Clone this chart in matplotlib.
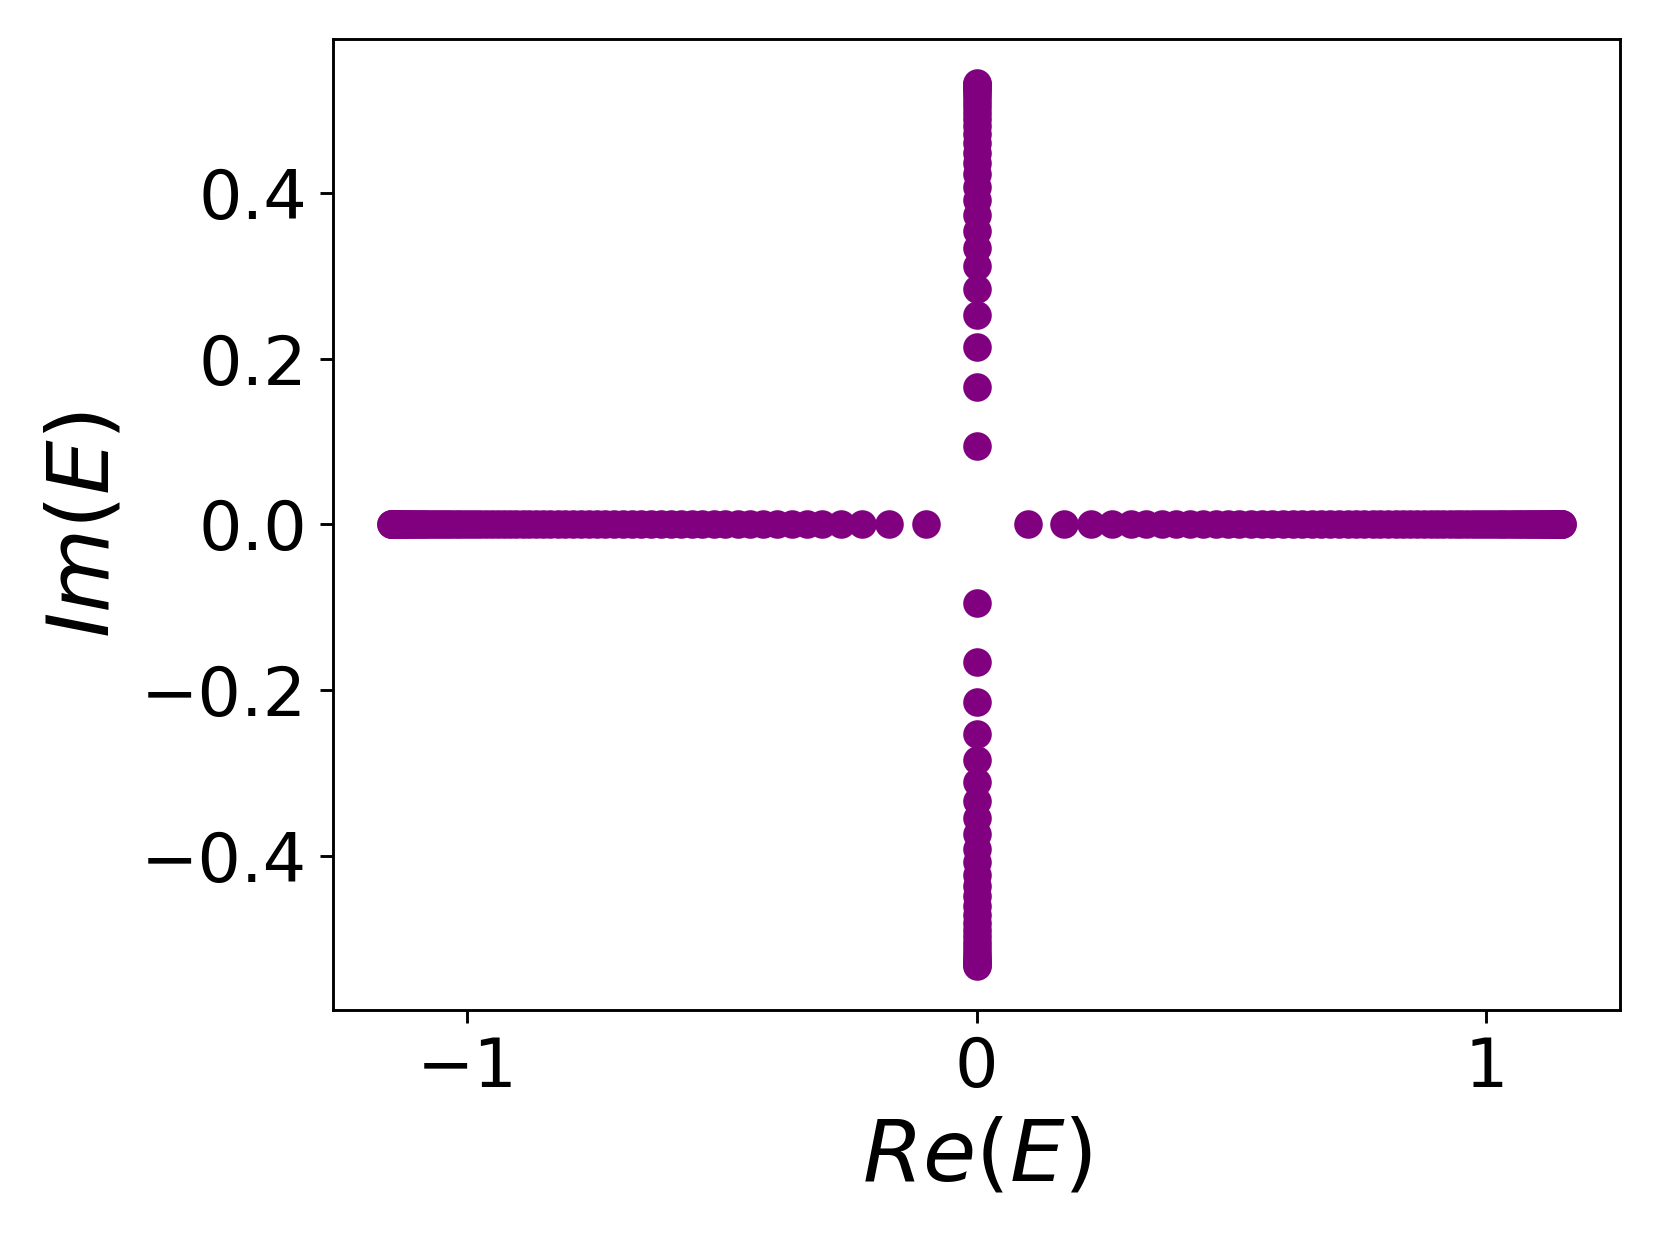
import numpy as np
import matplotlib
matplotlib.use("Agg")
import matplotlib.pyplot as plt

# Eigenvalues on the real axis (Re(E), Im(E)=0)
real_branch_re = [
    -1.1490, -1.1488, -1.1477, -1.1466, -1.1451, -1.1433, -1.1412, -1.1388, -1.1360, -1.1329,
    -1.1295, -1.1258, -1.1218, -1.1174, -1.1127, -1.1077, -1.1024, -1.0967, -1.0908, -1.0845,
    -1.0778, -1.0710, -1.0638, -1.0560, -1.0481, -1.0399, -1.0313, -1.0225, -1.0133, -1.0038,
    -0.9941, -0.9842, -0.9740, -0.9626, -0.9515, -0.9401, -0.9284, -0.9163, -0.9039, -0.8912,
    -0.8781, -0.8647, -0.8510, -0.8369, -0.8225, -0.8078, -0.7927, -0.7772, -0.7614, -0.7452,
    -0.7286, -0.7116, -0.6942, -0.6764, -0.6581, -0.6394, -0.6202, -0.6005, -0.5803, -0.5595,
    -0.5380, -0.5159, -0.4930, -0.4692, -0.4446, -0.4188, -0.3917, -0.3631, -0.3325, -0.303,
    -0.266, -0.224, -0.1725, -0.100,
    0.100, 0.1725, 0.224, 0.266, 0.303, 0.3325, 0.3631, 0.3917, 0.4188, 0.4446,
    0.4692, 0.4930, 0.5159, 0.5380, 0.5595, 0.5803, 0.6005, 0.6202, 0.6394, 0.6581,
    0.6764, 0.6942, 0.7116, 0.7286, 0.7452, 0.7614, 0.7772, 0.7927, 0.8078, 0.8225,
    0.8369, 0.8510, 0.8647, 0.8781, 0.8912, 0.9039, 0.9163, 0.9284, 0.9401, 0.9515,
    0.9626, 0.9740, 0.9842, 0.9941, 1.0038, 1.0133, 1.0225, 1.0313, 1.0399, 1.0481,
    1.0560, 1.0638, 1.0710, 1.0778, 1.0845, 1.0908, 1.0967, 1.1024, 1.1077, 1.1127,
    1.1174, 1.1218, 1.1258, 1.1295, 1.1329, 1.1360, 1.1388, 1.1412, 1.1433, 1.1451,
    1.1466, 1.1477, 1.1488, 1.1490,
]

# Eigenvalues on the imaginary axis (Re(E)=0, Im(E))
imag_branch_im = [
    0.0943, 0.166, 0.214, 0.252, 0.284, 0.311, 0.3330, 0.3535, 0.3728, 0.3907,
    0.4070, 0.4220, 0.4357, 0.4483, 0.4598, 0.4703, 0.4799, 0.4885, 0.4964, 0.5034,
    0.5096, 0.5150, 0.5196, 0.5235, 0.5267, 0.5292, 0.5315, 0.5320,
    -0.0943, -0.166, -0.214, -0.252, -0.284, -0.311, -0.3330, -0.3535, -0.3728, -0.3907,
    -0.4070, -0.4220, -0.4357, -0.4483, -0.4598, -0.4703, -0.4799, -0.4885, -0.4964, -0.5034,
    -0.5096, -0.5150, -0.5196, -0.5235, -0.5267, -0.5292, -0.5315, -0.5320,
]

x_ticks = [-1, 0, 1]
y_ticks = [-0.4, -0.2, 0.0, 0.2, 0.4]

real_re = np.array(real_branch_re)
imag_im = np.array(imag_branch_im)
E_re = np.concatenate([real_re, np.zeros(len(imag_im))])
E_im = np.concatenate([np.zeros(len(real_re)), imag_im])

fig = plt.figure(figsize=(6.4, 4.8), dpi=259.375)
ax = fig.add_subplot(111)
fig.subplots_adjust(left=0.2004, right=0.9762, top=0.9687, bottom=0.1888)

ax.scatter(E_re, E_im, s=48, color='purple', zorder=2)

ax.set_xticks(x_ticks)
ax.set_yticks(y_ticks)
ax.tick_params(labelsize=19)
ax.set_xlabel(r'$Re(E)$', fontsize=24)
ax.set_ylabel(r'$Im(E)$', fontsize=24)

fig.savefig('out.png', dpi=259.375)
